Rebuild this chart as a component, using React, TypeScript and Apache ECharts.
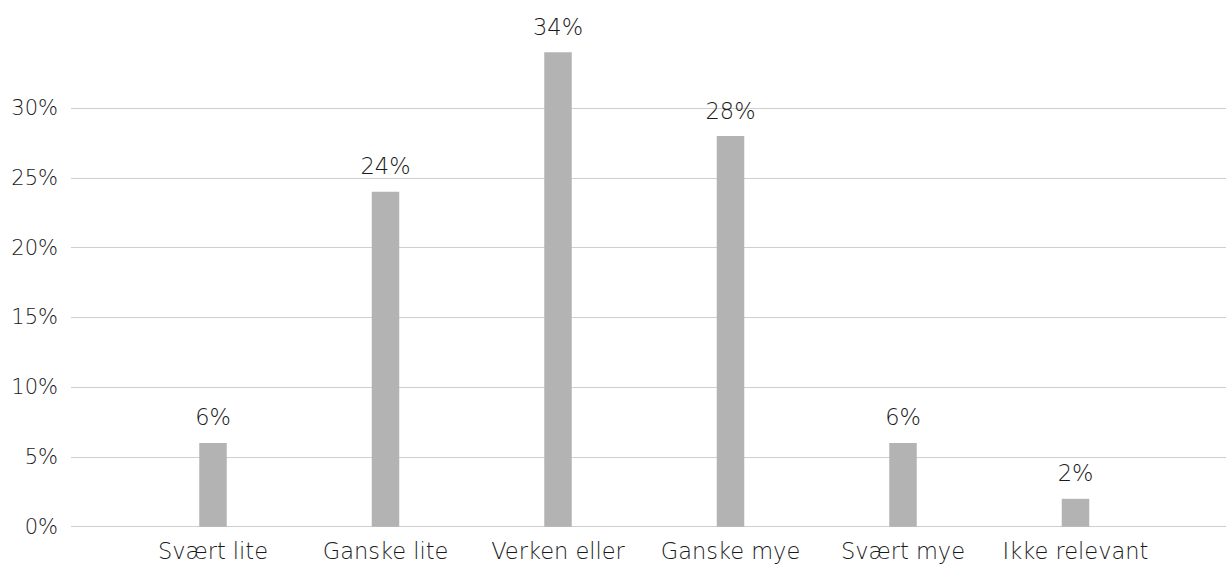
import React, { useEffect, useRef } from "react";
import * as echarts from "echarts";

const categories = ["Svært lite", "Ganske lite", "Verken eller", "Ganske mye", "Svært mye", "Ikke relevant"];
const values = [6, 24, 34, 28, 6, 2];
const yTicks = [0, 5, 10, 15, 20, 25, 30];

const FONT = "DejaVu Sans";

export default function App() {
  const ref = useRef<HTMLDivElement>(null);
  useEffect(() => {
    document.body.style.margin = "0";
    const chart = echarts.init(ref.current!, null, { renderer: "svg" });
    const top = 38.4;
    const bottom = 39.3;
    chart.setOption({
      animation: false,
      backgroundColor: "#ffffff",
      grid: [
        { left: 71, right: 0, top, bottom },
        { left: 126.75, right: 64.25, top, bottom },
      ],
      xAxis: [
        { type: "value", gridIndex: 0, show: false, min: 0, max: 1 },
        {
          type: "category",
          gridIndex: 1,
          data: categories,
          axisLine: { show: false },
          axisTick: { show: false },
          axisLabel: { color: "#1a1a1a", fontFamily: FONT, fontSize: 22.5, fontWeight: 200, margin: 13, interval: 0 },
        },
      ],
      yAxis: [
        {
          type: "value",
          gridIndex: 0,
          min: 0,
          max: 35,
          interval: 5,
          axisLine: { show: false },
          axisTick: { show: false },
          axisLabel: {
            color: "#1a1a1a",
            fontFamily: FONT,
            fontSize: 21,
            fontWeight: 200,
            margin: 13,
            formatter: (v: number) => (yTicks.includes(v) ? v + "%" : ""),
          },
          splitLine: {
            lineStyle: {
              color: ["#cfcfcf", "#cfcfcf", "#cfcfcf", "#cfcfcf", "#cfcfcf", "#cfcfcf", "#cfcfcf", "rgba(0,0,0,0)"],
              width: 1,
            },
          },
        },
        { type: "value", gridIndex: 1, min: 0, max: 35, show: false },
      ],
      series: [
        {
          type: "bar",
          xAxisIndex: 1,
          yAxisIndex: 1,
          data: values,
          barWidth: 27.5,
          itemStyle: { color: "#b3b3b3" },
          label: {
            show: true,
            position: "top",
            distance: 14,
            formatter: "{c}%",
            color: "#1a1a1a",
            fontFamily: FONT,
            fontSize: 22.5,
            fontWeight: 200,
          },
        },
      ],
    });
    return () => chart.dispose();
  }, []);
  return <div ref={ref} style={{ width: 1226, height: 566 }} />;
}
